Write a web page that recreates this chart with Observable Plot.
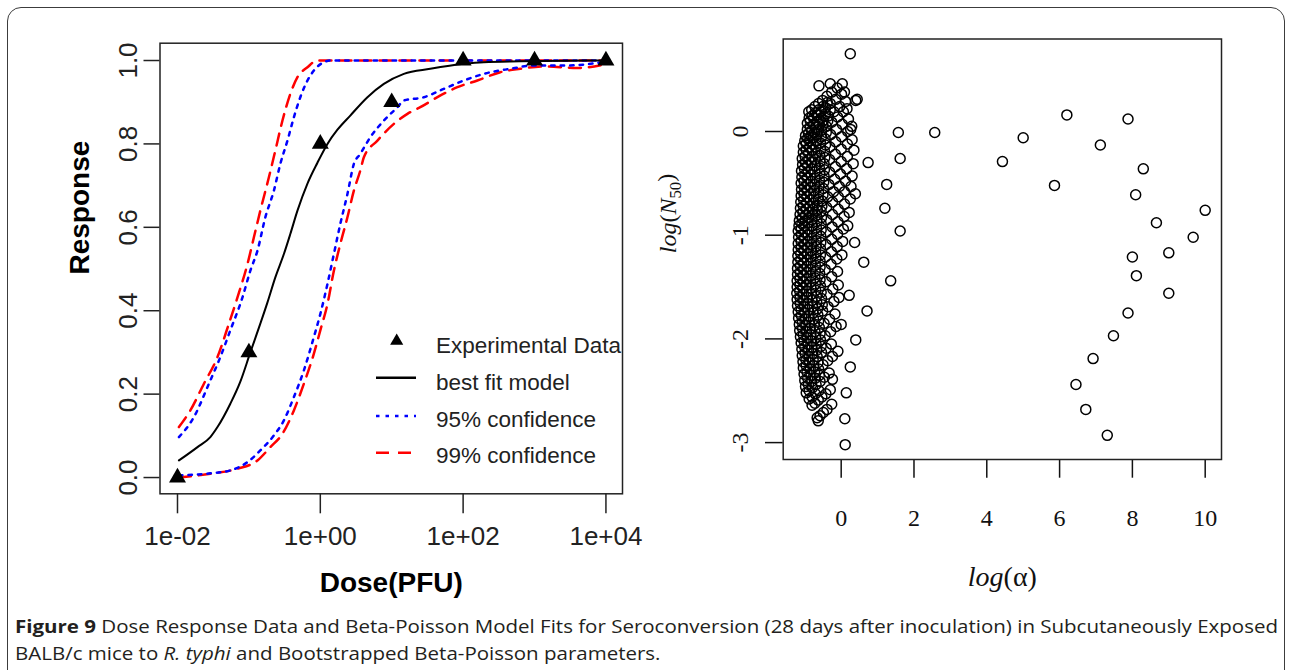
<!DOCTYPE html>
<html>
<head>
<meta charset="utf-8">
<script src="https://cdn.jsdelivr.net/npm/d3@7"></script>
<script src="https://cdn.jsdelivr.net/npm/@observablehq/plot@0.6"></script>
<style>
html,body{margin:0;padding:0;background:#fff;width:1292px;height:670px;overflow:hidden;position:relative;}
#frame{position:absolute;left:7px;top:7px;width:1278px;height:720px;border:1.5px solid #3c3c3c;border-radius:14px;box-sizing:border-box;}
#left{position:absolute;left:0;top:0;}
#right{position:absolute;left:640px;top:0;}
#caption{position:absolute;left:15px;top:613px;font-family:"Liberation Sans Narrow","Open Sans","DejaVu Sans",sans-serif;font-size:18px;line-height:27px;color:#231f20;white-space:nowrap;transform-origin:0 0;}
#caption div{white-space:nowrap;}
</style>
</head>
<body>
<div id="frame"></div>
<div id="left"></div>
<div id="right"></div>
<div id="caption"><div id="cap1"><b>Figure 9</b> Dose Response Data and Beta-Poisson Model Fits for Seroconversion (28 days after inoculation) in Subcutaneously Exposed</div><div id="cap2">BALB/c mice to <i>R. typhi</i> and Bootstrapped Beta-Poisson parameters.</div></div>
<script>
// ---------- Left panel data (log10 dose, response) ----------
const expDose = [0.01, 0.1, 1, 10, 100, 1000, 10000];
const expResponse = [0, 0.3, 0.8, 0.9, 1, 1, 1];

const bestFit = [[-1.98,0.041],[-1.72,0.073],[-1.54,0.097],[-1.44,0.121],[-1.26,0.177],[-1.12,0.230],[-0.98,0.300],[-0.84,0.369],[-0.74,0.420],[-0.63,0.480],[-0.51,0.536],[-0.42,0.584],[-0.32,0.640],[-0.18,0.705],[-0.04,0.755],[0.10,0.800],[0.24,0.834],[0.42,0.868],[0.66,0.912],[0.89,0.944],[1.17,0.968],[1.54,0.980],[2.01,0.992],[2.29,0.996],[2.80,0.998],[4.02,1.0]];

const ci95Upper = [[-1.98,0.097],[-1.77,0.145],[-1.56,0.225],[-1.40,0.289],[-1.26,0.353],[-1.09,0.432],[-0.98,0.496],[-0.88,0.544],[-0.77,0.624],[-0.65,0.688],[-0.56,0.752],[-0.46,0.808],[-0.37,0.864],[-0.28,0.912],[-0.18,0.952],[-0.09,0.976],[0.05,0.996],[0.14,1.0],[4.02,1.0]];
const ci99Upper = [[-1.98,0.121],[-1.82,0.161],[-1.63,0.225],[-1.44,0.289],[-1.28,0.369],[-1.16,0.432],[-1.02,0.512],[-0.93,0.576],[-0.84,0.640],[-0.72,0.720],[-0.63,0.784],[-0.53,0.856],[-0.42,0.920],[-0.32,0.960],[-0.18,0.984],[-0.04,1.0],[4.02,1.0]];
const ci95Lower = [[-1.98,0.005],[-1.54,0.010],[-1.26,0.017],[-1.02,0.037],[-0.84,0.065],[-0.65,0.101],[-0.51,0.137],[-0.37,0.193],[-0.23,0.257],[-0.09,0.337],[0.00,0.392],[0.10,0.464],[0.19,0.536],[0.28,0.608],[0.38,0.680],[0.47,0.752],[0.56,0.776],[0.70,0.816],[0.89,0.856],[1.08,0.888],[1.17,0.904],[1.45,0.912],[1.73,0.932],[2.01,0.952],[2.29,0.968],[2.66,0.980],[2.99,0.988],[3.46,0.988],[4.02,0.998]];
const ci99Lower = [[-1.98,0.0],[-1.54,0.009],[-1.16,0.021],[-0.88,0.041],[-0.70,0.073],[-0.53,0.105],[-0.37,0.161],[-0.23,0.225],[-0.09,0.297],[0.00,0.353],[0.10,0.416],[0.19,0.496],[0.28,0.560],[0.38,0.624],[0.47,0.688],[0.56,0.736],[0.61,0.768],[0.80,0.808],[1.03,0.848],[1.22,0.872],[1.40,0.888],[1.64,0.912],[1.92,0.936],[2.20,0.952],[2.52,0.972],[2.80,0.980],[3.13,0.986],[3.60,0.982],[4.02,0.992]];

const xTickValues = [0.01, 1, 100, 10000];
const xTickLabels = ["1e-02", "1e+00", "1e+02", "1e+04"];
const yTickValues = [0, 0.2, 0.4, 0.6, 0.8, 1.0];
const yTickLabels = ["0.0", "0.2", "0.4", "0.6", "0.8", "1.0"];
const legendLabels = ["Experimental Data", "best fit model", "95% confidence", "99% confidence"];

// ---------- Right panel data: bootstrapped (log alpha, log N50) ----------
const bootstrapCluster = [
[-0.89,0.19],[-0.81,0.21],[-0.72,0.24],[-0.62,0.27],[-0.51,0.30],[-0.39,0.34],[-0.26,0.38],[-0.11,0.42],[0.03,0.46],
[-0.93,0.08],[-0.85,0.10],[-0.76,0.13],[-0.66,0.16],[-0.55,0.19],[-0.43,0.23],[-0.30,0.27],[-0.15,0.31],[0.01,0.36],[0.09,0.38],
[-0.98,-0.04],[-0.90,-0.02],[-0.81,0.01],[-0.71,0.04],[-0.60,0.07],[-0.48,0.11],[-0.35,0.15],[-0.20,0.19],[-0.04,0.24],[0.12,0.29],
[-1.04,-0.14],[-0.96,-0.12],[-0.87,-0.09],[-0.77,-0.06],[-0.66,-0.03],[-0.54,0.01],[-0.41,0.05],[-0.26,0.09],[-0.10,0.14],[0.06,0.19],[0.16,0.22],
[-1.07,-0.26],[-0.99,-0.24],[-0.90,-0.21],[-0.80,-0.18],[-0.69,-0.15],[-0.57,-0.11],[-0.44,-0.07],[-0.29,-0.03],[-0.13,0.02],[0.03,0.07],[0.20,0.12],
[-1.09,-0.38],[-1.01,-0.36],[-0.92,-0.33],[-0.82,-0.30],[-0.71,-0.27],[-0.59,-0.23],[-0.46,-0.19],[-0.31,-0.15],[-0.15,-0.10],[0.01,-0.05],[0.18,0.00],[0.26,0.02],
[-1.10,-0.50],[-1.02,-0.48],[-0.93,-0.45],[-0.83,-0.42],[-0.72,-0.39],[-0.60,-0.35],[-0.47,-0.31],[-0.32,-0.27],[-0.16,-0.22],[0.00,-0.17],[0.17,-0.12],[0.30,-0.08],
[-1.10,-0.62],[-1.02,-0.60],[-0.93,-0.57],[-0.83,-0.54],[-0.72,-0.51],[-0.60,-0.47],[-0.47,-0.43],[-0.32,-0.39],[-0.16,-0.34],[0.00,-0.29],[0.17,-0.24],[0.35,-0.18],
[-1.12,-0.74],[-1.04,-0.72],[-0.95,-0.69],[-0.85,-0.66],[-0.74,-0.63],[-0.62,-0.59],[-0.49,-0.55],[-0.34,-0.51],[-0.18,-0.46],[-0.02,-0.41],[0.15,-0.36],[0.33,-0.31],
[-1.15,-0.86],[-1.07,-0.84],[-0.98,-0.81],[-0.88,-0.78],[-0.77,-0.75],[-0.65,-0.71],[-0.52,-0.67],[-0.37,-0.63],[-0.21,-0.58],[-0.05,-0.53],[0.12,-0.48],[0.30,-0.43],
[-1.18,-0.96],[-1.10,-0.94],[-1.01,-0.91],[-0.91,-0.88],[-0.80,-0.85],[-0.68,-0.81],[-0.55,-0.77],[-0.40,-0.73],[-0.24,-0.68],[-0.08,-0.63],[0.09,-0.58],[0.27,-0.53],
[-1.18,-1.08],[-1.10,-1.06],[-1.01,-1.03],[-0.91,-1.00],[-0.80,-0.97],[-0.68,-0.93],[-0.55,-0.89],[-0.40,-0.85],[-0.24,-0.80],[-0.08,-0.75],[0.09,-0.70],[0.25,-0.65],
[-1.19,-1.20],[-1.11,-1.18],[-1.02,-1.15],[-0.92,-1.12],[-0.81,-1.09],[-0.69,-1.05],[-0.56,-1.01],[-0.41,-0.97],[-0.25,-0.92],[-0.09,-0.87],[0.08,-0.82],[0.22,-0.78],
[-1.20,-1.32],[-1.12,-1.30],[-1.03,-1.27],[-0.93,-1.24],[-0.82,-1.21],[-0.70,-1.17],[-0.57,-1.13],[-0.42,-1.09],[-0.26,-1.04],[-0.10,-0.99],[0.06,-0.94],[0.18,-0.91],
[-1.21,-1.44],[-1.13,-1.42],[-1.04,-1.39],[-0.94,-1.36],[-0.83,-1.33],[-0.71,-1.29],[-0.58,-1.25],[-0.43,-1.21],[-0.27,-1.16],[-0.11,-1.11],[0.04,-1.06],
[-1.22,-1.56],[-1.14,-1.54],[-1.05,-1.51],[-0.95,-1.48],[-0.84,-1.45],[-0.72,-1.41],[-0.59,-1.37],[-0.44,-1.33],[-0.28,-1.28],[-0.12,-1.23],[0.02,-1.19],
[-1.20,-1.68],[-1.12,-1.66],[-1.03,-1.63],[-0.93,-1.60],[-0.82,-1.57],[-0.70,-1.53],[-0.57,-1.49],[-0.42,-1.45],[-0.26,-1.40],[-0.10,-1.35],
[-1.17,-1.80],[-1.09,-1.78],[-1.00,-1.75],[-0.90,-1.72],[-0.79,-1.69],[-0.67,-1.65],[-0.54,-1.61],[-0.39,-1.57],[-0.23,-1.52],[-0.08,-1.48],
[-1.14,-1.92],[-1.06,-1.90],[-0.97,-1.87],[-0.87,-1.84],[-0.76,-1.81],[-0.64,-1.77],[-0.51,-1.73],[-0.36,-1.69],[-0.20,-1.64],[-0.06,-1.60],
[-1.10,-2.04],[-1.02,-2.02],[-0.93,-1.99],[-0.83,-1.96],[-0.72,-1.93],[-0.60,-1.89],[-0.47,-1.85],[-0.32,-1.81],[-0.17,-1.76],
[-1.07,-2.16],[-0.99,-2.14],[-0.90,-2.11],[-0.80,-2.08],[-0.69,-2.05],[-0.57,-2.01],[-0.44,-1.97],[-0.29,-1.93],[-0.14,-1.88],
[-1.04,-2.28],[-0.96,-2.26],[-0.87,-2.23],[-0.77,-2.20],[-0.66,-2.17],[-0.54,-2.13],[-0.41,-2.09],[-0.27,-2.05],
[-1.00,-2.40],[-0.92,-2.38],[-0.83,-2.35],[-0.73,-2.32],[-0.62,-2.29],[-0.50,-2.25],[-0.37,-2.21],[-0.24,-2.17],
[-0.96,-2.52],[-0.88,-2.50],[-0.79,-2.47],[-0.69,-2.44],[-0.58,-2.41],[-0.46,-2.37],[-0.33,-2.33],
[-0.80,-2.64],[-0.72,-2.62],[-0.63,-2.59],[-0.53,-2.56],[-0.42,-2.53],[-0.30,-2.49],
[-0.66,-2.76],[-0.58,-2.74],[-0.49,-2.71],[-0.39,-2.68]
];
const bootstrapDense = [
[-0.88,0.13],[-0.80,0.15],[-0.71,0.18],[-0.61,0.21],[-0.50,0.24],[-0.38,0.28],
[-0.93,0.02],[-0.85,0.04],[-0.76,0.07],[-0.66,0.10],[-0.55,0.13],[-0.43,0.17],[-0.30,0.21],
[-1.00,-0.09],[-0.92,-0.07],[-0.83,-0.04],[-0.73,-0.01],[-0.62,0.02],[-0.50,0.06],[-0.37,0.10],
[-1.04,-0.20],[-0.96,-0.18],[-0.87,-0.15],[-0.77,-0.12],[-0.66,-0.09],[-0.54,-0.05],[-0.41,-0.01],
[-1.06,-0.32],[-0.98,-0.30],[-0.89,-0.27],[-0.79,-0.24],[-0.68,-0.21],[-0.56,-0.17],[-0.43,-0.13],
[-1.08,-0.44],[-1.00,-0.42],[-0.91,-0.39],[-0.81,-0.36],[-0.70,-0.33],[-0.58,-0.29],[-0.45,-0.25],
[-1.09,-0.56],[-1.01,-0.54],[-0.92,-0.51],[-0.82,-0.48],[-0.71,-0.45],[-0.59,-0.41],[-0.46,-0.37],
[-1.11,-0.68],[-1.03,-0.66],[-0.94,-0.63],[-0.84,-0.60],[-0.73,-0.57],[-0.61,-0.53],[-0.48,-0.49],
[-1.13,-0.80],[-1.05,-0.78],[-0.96,-0.75],[-0.86,-0.72],[-0.75,-0.69],[-0.63,-0.65],[-0.50,-0.61],
[-1.16,-0.91],[-1.08,-0.89],[-0.99,-0.86],[-0.89,-0.83],[-0.78,-0.80],[-0.66,-0.76],[-0.53,-0.72],
[-1.17,-1.02],[-1.09,-1.00],[-1.00,-0.97],[-0.90,-0.94],[-0.79,-0.91],[-0.67,-0.87],[-0.54,-0.83],
[-1.18,-1.14],[-1.10,-1.12],[-1.01,-1.09],[-0.91,-1.06],[-0.80,-1.03],[-0.68,-0.99],[-0.55,-0.95],
[-1.19,-1.26],[-1.11,-1.24],[-1.02,-1.21],[-0.92,-1.18],[-0.81,-1.15],[-0.69,-1.11],[-0.56,-1.07],
[-1.20,-1.38],[-1.12,-1.36],[-1.03,-1.33],[-0.93,-1.30],[-0.82,-1.27],[-0.70,-1.23],[-0.57,-1.19],
[-1.21,-1.50],[-1.13,-1.48],[-1.04,-1.45],[-0.94,-1.42],[-0.83,-1.39],[-0.71,-1.35],[-0.58,-1.31],
[-1.21,-1.62],[-1.13,-1.60],[-1.04,-1.57],[-0.94,-1.54],[-0.83,-1.51],[-0.71,-1.47],[-0.58,-1.43],
[-1.18,-1.74],[-1.10,-1.72],[-1.01,-1.69],[-0.91,-1.66],[-0.80,-1.63],[-0.68,-1.59],[-0.55,-1.55],
[-1.15,-1.86],[-1.07,-1.84],[-0.98,-1.81],[-0.88,-1.78],[-0.77,-1.75],[-0.65,-1.71],[-0.52,-1.67],
[-1.12,-1.98],[-1.04,-1.96],[-0.95,-1.93],[-0.85,-1.90],[-0.74,-1.87],[-0.62,-1.83],
[-1.08,-2.10],[-1.00,-2.08],[-0.91,-2.05],[-0.81,-2.02],[-0.70,-1.99],[-0.58,-1.95],
[-1.05,-2.22],[-0.97,-2.20],[-0.88,-2.17],[-0.78,-2.14],[-0.67,-2.11],[-0.55,-2.07],
[-1.02,-2.34],[-0.94,-2.32],[-0.85,-2.29],[-0.75,-2.26],[-0.64,-2.23],
[-0.98,-2.46],[-0.90,-2.44],[-0.81,-2.41],[-0.71,-2.38],[-0.60,-2.35],
[-0.88,-2.58],[-0.80,-2.56],[-0.71,-2.53],[-0.61,-2.50]
];
const bootstrapOutliers = [
[0.25,0.75],[0.40,0.30],[0.44,0.31],[-0.61,0.44],[-0.30,0.46],[0.29,0.05],[0.39,-0.60],[0.37,-1.07],[0.22,-1.58],[0.00,-1.86],
[0.74,-0.30],[0.62,-1.26],[0.71,-1.73],[0.40,-2.01],[0.25,-2.27],[0.14,-2.52],[0.10,-2.77],[0.11,-3.02],[-0.26,-2.63],[-0.24,-2.39],[-0.09,-2.12],[-0.63,-2.79],
[1.57,-0.01],[2.57,-0.01],[1.62,-0.26],[1.25,-0.51],[1.20,-0.74],[1.62,-0.96],[1.36,-1.44],
[4.43,-0.29],[5.00,-0.06],[5.86,-0.52],[6.20,0.16],[7.12,-0.13],[7.88,0.12],[8.30,-0.36],[8.09,-0.61],[8.66,-0.88],[10.0,-0.76],
[9.67,-1.02],[9.00,-1.17],[8.00,-1.21],[8.11,-1.39],[9.00,-1.56],[7.88,-1.75],[7.48,-1.97],[6.92,-2.19],[6.45,-2.44],[6.72,-2.68],[7.31,-2.93]
];
const rxTicks = [0, 2, 4, 6, 8, 10];
const ryTicks = [0, -1, -2, -3];

// ---------- Left plot ----------
const expData = expDose.map((d, i) => ({dose: d, response: expResponse[i]}));
const curve = (arr) => arr.map(([l, r]) => ({dose: 10 ** l, response: r}));
const sans = "'Liberation Sans', Arial, sans-serif";
const lineOpts = {x: "dose", y: "response", curve: "monotone-x"};

const left = Plot.plot({
  width: 640, height: 620,
  marginLeft: 159.5, marginRight: 18, marginTop: 42.7, marginBottom: 126.7,
  x: {type: "log", domain: [10 ** -2.245, 10 ** 4.232]},
  y: {domain: [-0.039, 1.0415]},
  style: {fontFamily: sans, color: "#222", background: "transparent", overflow: "visible"},
  marks: [
    Plot.axisX({ticks: xTickValues, tickFormat: d => xTickLabels[xTickValues.indexOf(d)], tickSize: 20, tickPadding: 23, lineAnchor: "middle", fontSize: 26, label: null, strokeWidth: 1.5}),
    Plot.axisY({ticks: yTickValues, tickFormat: d => yTickLabels[yTickValues.findIndex(v => Math.abs(v - d) < 1e-9)], tickSize: 16, tickPadding: 15, tickRotate: -90, textAnchor: "middle", lineAnchor: "middle", fontSize: 26, label: null, strokeWidth: 1.5}),
    Plot.line(curve(ci99Upper), {...lineOpts, stroke: "#ff0000", strokeWidth: 2.5, strokeDasharray: "12 8"}),
    Plot.line(curve(ci99Lower), {...lineOpts, stroke: "#ff0000", strokeWidth: 2.5, strokeDasharray: "12 8"}),
    Plot.line(curve(ci95Upper), {...lineOpts, stroke: "#0000ff", strokeWidth: 2.5, strokeDasharray: "3.5 6"}),
    Plot.line(curve(ci95Lower), {...lineOpts, stroke: "#0000ff", strokeWidth: 2.5, strokeDasharray: "3.5 6"}),
    Plot.line(curve(bestFit), {...lineOpts, stroke: "#000", strokeWidth: 2}),
    Plot.dot(expData, {x: "dose", y: "response", symbol: "triangle", r: 6.3, fill: "#000"}),
    Plot.frame({stroke: "#222", strokeWidth: 1.5}),
    Plot.text(["Response"], {text: d => d, frameAnchor: "left", dx: -79.5, dy: 6, rotate: -90, fontSize: 28, fontWeight: "bold", fill: "#000"}),
    Plot.text(["Dose(PFU)"], {text: d => d, frameAnchor: "bottom", dy: 98.4, fontSize: 28, fontWeight: "bold", fill: "#000"})
  ]
});
document.getElementById("left").appendChild(left);

// Legend (inside left panel, no box)
const ns = "http://www.w3.org/2000/svg";
const lg = d3.select("#left").append("svg").attr("width", 640).attr("height", 620)
  .style("position", "absolute").style("left", "0px").style("top", "0px").style("font-family", sans);
const rows = [
  {sy: 340, ty: 353, kind: "tri"},
  {sy: 377.7, ty: 390, kind: "line", color: "#000", dash: null},
  {sy: 416, ty: 426.7, kind: "line", color: "#0000ff", dash: "3.5 6"},
  {sy: 452.7, ty: 463.3, kind: "line", color: "#ff0000", dash: "13 9"}
];
rows.forEach((r, i) => {
  if (r.kind === "tri") {
    lg.append("path").attr("d", d3.symbol(d3.symbolTriangle, 75)()).attr("transform", `translate(396.7,${r.sy + 1})`).attr("fill", "#000");
  } else {
    const l = lg.append("line").attr("x1", 376).attr("x2", 416).attr("y1", r.sy).attr("y2", r.sy)
      .attr("stroke", r.color).attr("stroke-width", 2.5);
    if (r.dash) l.attr("stroke-dasharray", r.dash);
  }
  lg.append("text").attr("x", 436).attr("y", r.ty).attr("font-size", 22.5).attr("fill", "#222").text(legendLabels[i]);
});

// ---------- Right plot ----------
const serif = "'Liberation Serif', 'Times New Roman', serif";
const allBoot = bootstrapCluster.concat(bootstrapDense, bootstrapOutliers);
const right = Plot.plot({
  width: 652, height: 620,
  marginLeft: 142.7, marginRight: 71, marginTop: 38.5, marginBottom: 161,
  x: {domain: [-1.593, 10.448]},
  y: {domain: [-3.163, 0.892]},
  style: {fontFamily: serif, color: "#111", background: "transparent", overflow: "visible"},
  marks: [
    Plot.axisX({ticks: rxTicks, tickFormat: d => String(d), tickSize: 18.7, tickPadding: 40.6, lineAnchor: "middle", fontSize: 24, label: null, strokeWidth: 1.5}),
    Plot.axisY({ticks: ryTicks, tickFormat: d => String(d), tickSize: 17.7, tickPadding: 25, tickRotate: -90, textAnchor: "middle", lineAnchor: "middle", fontSize: 24, label: null, strokeWidth: 1.5}),
    Plot.dot(allBoot, {x: d => d[0], y: d => d[1], r: 5, stroke: "#000", strokeWidth: 1.5, fill: "none"}),
    Plot.frame({stroke: "#222", strokeWidth: 1.5}),
    Plot.text(["log(α)"], {text: d => d, frameAnchor: "bottom", dy: 126, fontSize: 28, fill: "#111"}),
    Plot.text(["log(N50)"], {text: d => d, frameAnchor: "left", dx: -114.7, dy: 4, rotate: -90, fontSize: 24, fill: "#111"})
  ]
});
document.getElementById("right").appendChild(right);

// Mixed math styling for the two right-panel axis titles
function styled(t, parts) {
  while (t.firstChild) t.removeChild(t.firstChild);
  parts.forEach(p => {
    const s = document.createElementNS(ns, "tspan");
    s.textContent = p.t;
    if (p.i) s.setAttribute("font-style", "italic");
    if (p.fs) s.setAttribute("font-size", p.fs);
    if (p.dy) s.setAttribute("dy", p.dy);
    t.appendChild(s);
  });
}
right.querySelectorAll("text").forEach(t => {
  if (t.textContent === "log(α)") styled(t, [{t: "log", i: true}, {t: "(α)"}]);
  else if (t.textContent === "log(N50)") styled(t, [{t: "log", i: true}, {t: "("}, {t: "N", i: true}, {t: "50", fs: "0.7em", dy: "0.3em"}, {t: ")", dy: "-0.3em"}]);
});

// Condense caption horizontally so the first line spans the frame width
const cap = document.getElementById("caption");
const cap1 = document.getElementById("cap1");
cap1.style.display = "inline-block";
const w = cap1.getBoundingClientRect().width;
cap1.style.display = "block";
cap.style.transform = `scaleX(${1263 / w})`;
</script>
</body>
</html>
